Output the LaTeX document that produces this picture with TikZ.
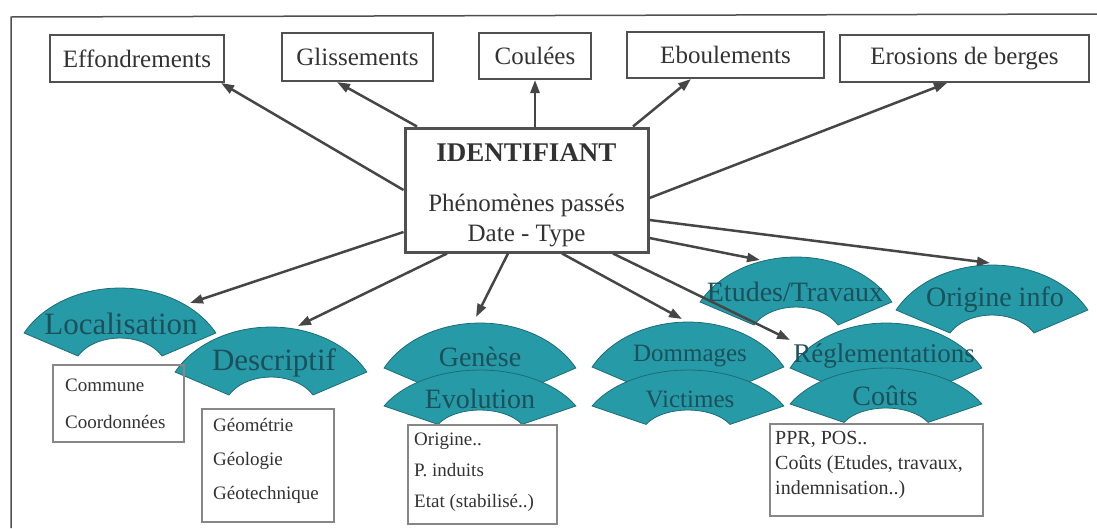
\documentclass[tikz,border=0pt]{standalone}
\usepackage{fontspec}
\setmainfont{Liberation Serif}
\usetikzlibrary{arrows.meta,calc}
\definecolor{fanfill}{RGB}{38,154,167}
\definecolor{fanedge}{RGB}{30,108,118}
\definecolor{fantext}{RGB}{28,80,90}
\definecolor{boxline}{RGB}{80,80,80}
\definecolor{infoline}{RGB}{135,135,135}
\definecolor{arrowcol}{RGB}{70,70,70}
\definecolor{txt}{RGB}{50,50,50}
% #1 = centre x, #2 = top y, #3 = vertical scale
\newcommand{\drawfan}[3]{%
  \path[fan] ({#1-95.9},{#2+45*#3}) arc[start angle=207.4, end angle=332.6, x radius=108, y radius={83.3*#3}]
    -- ({#1+42},{#2+68*#3}) arc[start angle=332.6, end angle=207.4, x radius=47.3, y radius={33.3*#3}] -- cycle;}
\tikzset{
  topbox/.style={draw=boxline, line width=2pt, inner sep=0pt, text=txt, font=\fontsize{25}{30}\selectfont},
  idbox/.style={draw=boxline, line width=3pt, inner sep=0pt, minimum width=243pt, minimum height=124pt},
  idtext/.style={align=center, text=txt, font=\fontsize{25}{30}\selectfont, inner sep=0pt},
  infobox/.style={draw=infoline, line width=1.5pt, inner sep=0pt},
  infotext/.style={align=left, text=txt, inner sep=0pt, anchor=north west},
  fan/.style={fill=fanfill, draw=fanedge, line width=0.8pt},
  fanlabel/.style={text=fantext, font=\fontsize{28}{28}\selectfont, inner sep=0pt},
  link/.style={draw=arrowcol, line width=2.5pt, -{Triangle[length=13pt,width=9pt]}},
  frameline/.style={draw=boxline, line width=1.5pt},
}
\begin{document}
\begin{tikzpicture}[x=1pt,y=-1pt]
\useasboundingbox (0,0) rectangle (1097,528);
\draw[frameline] (11,528) -- (11,17) -- (1097,14);

% top boxes
\node[topbox, minimum width=174pt, minimum height=47pt] (eff) at (137,58.5) {Effondrements};
\node[topbox, minimum width=151pt, minimum height=48pt] (gli) at (357.5,57) {Glissements};
\node[topbox, minimum width=112pt, minimum height=46pt] (cou) at (535,56) {Coulées};
\node[topbox, minimum width=197pt, minimum height=46pt] (ebo) at (725.5,55) {Eboulements};
\node[topbox, minimum width=249pt, minimum height=47pt] (ero) at (964.5,58.5) {Erosions de berges};

% central box
\node[idbox] (id) at (526.5,190) {};
\node[idtext] (idt) at (526.5,195) {{\fontsize{27}{30}\selectfont\bfseries IDENTIFIANT}\\[20pt]Phénomènes passés\\Date - Type};

% fans
\drawfan{120}{288}{1}
\node[fanlabel, font=\fontsize{31}{31}\selectfont] (loc) at (121,324) {Localisation};
\drawfan{271}{327}{1}
\node[fanlabel, font=\fontsize{31}{31}\selectfont] (desc) at (274,363) {Descriptif};
\drawfan{480}{323}{1}
\node[fanlabel] (gen) at (480,357) {Genèse};
\drawfan{480}{370}{0.8}
\node[fanlabel] (evo) at (480,399) {Evolution};
\drawfan{688}{322}{1}
\node[fanlabel, font=\fontsize{25}{25}\selectfont] (dom) at (690,356) {Dommages};
\drawfan{796}{257}{1}
\node[fanlabel] (etu) at (795,292) {Etudes/Travaux};
\drawfan{886}{323}{1}
\node[fanlabel, font=\fontsize{27}{27}\selectfont] (regl) at (884,356) {Réglementations};
\drawfan{688}{370}{0.8}
\node[fanlabel, font=\fontsize{25}{25}\selectfont] (vic) at (690,399) {Victimes};
\drawfan{886}{368}{0.8}
\node[fanlabel] (cou2) at (885,396) {Coûts};
\drawfan{992}{265}{1}
\node[fanlabel] (ori) at (995,300) {Origine info};

% info boxes
\node[infobox, minimum width=131pt, minimum height=77pt] (com) at (118.5,403.5) {};
\node[infotext, font=\fontsize{19}{37}\selectfont] (comt) at (65,379) {Commune\\Coordonnées};
\node[infobox, minimum width=132pt, minimum height=113pt] (geo) at (268,465.5) {};
\node[infotext, font=\fontsize{19}{34}\selectfont] (geot) at (213,418) {Géométrie\\Géologie\\Géotechnique};
\node[infobox, minimum width=149pt, minimum height=99pt] (org) at (482.5,474.5) {};
\node[infotext, font=\fontsize{19}{31}\selectfont] (orgt) at (414,433) {Origine..\\P. induits\\Etat (stabilisé..)};
\node[infobox, minimum width=213pt, minimum height=92pt] (ppr) at (876.5,470) {};
\node[infotext, font=\fontsize{20}{25}\selectfont] (pprt) at (775,431) {PPR, POS..\\Coûts (Etudes, travaux,\\indemnisation..)};

% arrow targets on fans
\coordinate (tLoc) at (190,303);
\coordinate (tDesc) at (298,326);
\coordinate (tGen) at (476,317);
\coordinate (tDom) at (682,319);
\coordinate (tRegl) at (790,340);
\coordinate (tEtu) at (760,260);
\coordinate (tOri) at (990,263);

% arrows
\draw[link] (id.west) -- ([xshift=-4pt]eff.south east);
\draw[link] ([xshift=-109.5pt]id.north) -- ([xshift=-20.5pt]gli.south);
\draw[link] (id.north -| cou.south) -- (cou.south);
\draw[link] ([xshift=106.5pt]id.north) -- ([xshift=-34.5pt]ebo.south);
\draw[link] ([yshift=-8pt]id.east) -- ([xshift=-17.5pt]ero.south);
\draw[link] ([yshift=-30pt]id.east) -- (tOri);
\draw[link] ([yshift=-48pt]id.east) -- (tEtu);
\draw[link] ([xshift=86.5pt]id.south) -- (tRegl);
\draw[link] ([xshift=35.5pt]id.south) -- (tDom);
\draw[link] ([xshift=-18.5pt]id.south) -- (tGen);
\draw[link] ([xshift=-79.5pt]id.south) -- (tDesc);
\draw[link] ([yshift=-42pt]id.west) -- (tLoc);
\end{tikzpicture}
\end{document}
